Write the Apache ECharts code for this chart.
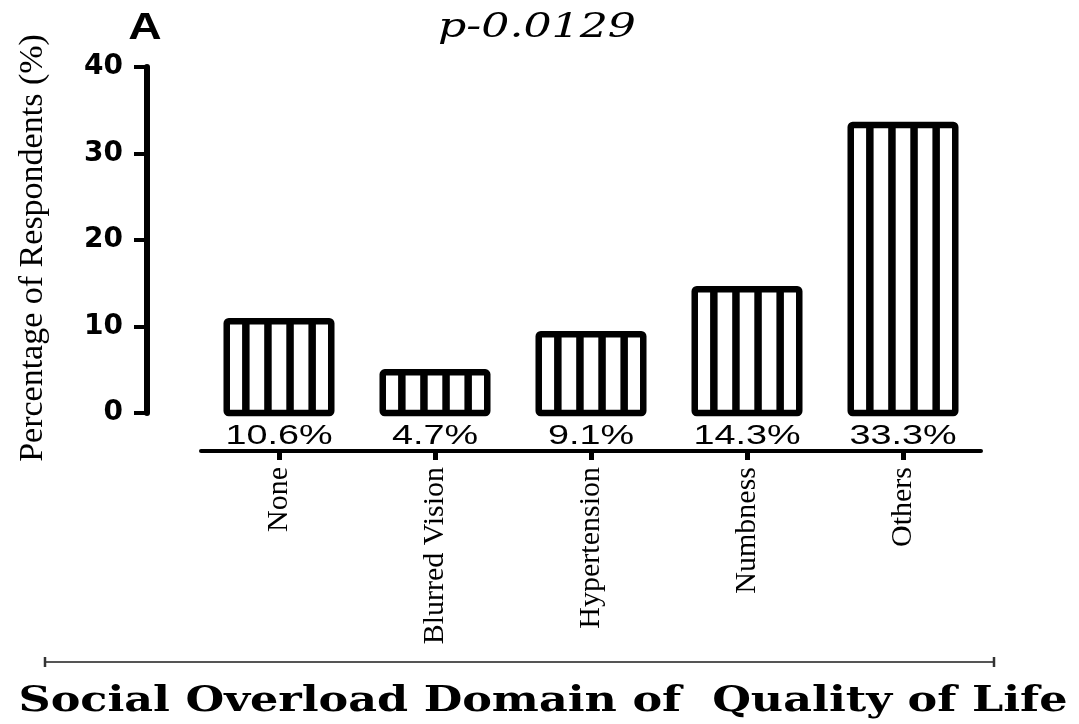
<!DOCTYPE html>
<html>
<head>
<meta charset="utf-8">
<script src="https://cdn.jsdelivr.net/npm/echarts@6/dist/echarts.min.js"></script>
<style>
html,body{margin:0;padding:0;background:#fff;}
#chart{width:1079px;height:724px;}
</style>
</head>
<body>
<div id="chart"></div>
<script>
var categories = ['None', 'Blurred Vision', 'Hypertension', 'Numbness', 'Others'];
var values = [10.6, 4.7, 9.1, 14.3, 33.3];
var valueLabels = ['10.6%', '4.7%', '9.1%', '14.3%', '33.3%'];
var yMin = 0, yMax = 40, yInterval = 10;
var panelLetter = 'A';
var pValueText = 'p-0.0129';
var yAxisTitle = 'Percentage of Respondents (%)';
var xAxisTitle = 'Social Overload Domain of  Quality of Life';

var chart = echarts.init(document.getElementById('chart'), null, {renderer: 'canvas'});

var seriesData = values.map(function (v, i) { return [i, v]; });

function renderBar(params, api) {
  var idx = api.value(0);
  var val = api.value(1);
  var top = api.coord([idx, val]);
  var base = api.coord([idx, 0]);
  var band = api.size([1, 0])[0];
  var w = band * 0.67;
  var x0 = top[0] - w / 2;
  var h = base[1] - top[1];
  var children = [];
  children.push({type: 'rect', shape: {x: x0, y: top[1], width: w, height: h}, style: {fill: '#fff', stroke: null}});
  for (var i = 1; i <= 4; i++) {
    var sx = x0 - 3 + (w + 6) * i / 5;
    children.push({type: 'line', shape: {x1: sx, y1: top[1], x2: sx, y2: base[1]}, style: {stroke: '#000', lineWidth: 7.5}});
  }
  children.push({type: 'rect', shape: {x: x0, y: top[1], width: w, height: h, r: 2}, style: {fill: null, stroke: '#000', lineWidth: 6.5}});
  children.push({
    type: 'text', x: top[0], y: base[1] + 23, scaleX: 1.35,
    style: {text: valueLabels[idx], align: 'center', verticalAlign: 'middle', textAlign: 'center', textVerticalAlign: 'middle',
      font: '28px "Liberation Sans", Arial, sans-serif', fill: '#000'}
  });
  return {type: 'group', children: children};
}

var option = {
  backgroundColor: '#fff',
  animation: false,
  grid: {left: 201, right: 98, top: 67, bottom: 311, containLabel: false},
  xAxis: {
    type: 'category',
    data: categories,
    offset: 38,
    axisLine: {show: true, onZero: false, lineStyle: {color: '#000', width: 4}},
    axisTick: {show: true, alignWithLabel: true, length: 9, lineStyle: {color: '#000', width: 5}},
    axisLabel: {rotate: 90, margin: 16, color: '#000', fontFamily: '"Liberation Serif", "Times New Roman", serif', fontSize: 30},
    splitLine: {show: false}
  },
  yAxis: {
    type: 'value',
    min: yMin, max: yMax, interval: yInterval,
    offset: 54,
    name: yAxisTitle,
    nameLocation: 'middle',
    nameGap: 97,
    nameTextStyle: {color: '#000', fontFamily: '"Liberation Serif", "Times New Roman", serif', fontSize: 34, padding: [0, 16, 0, 0]},
    axisLine: {show: true, onZero: false, lineStyle: {color: '#000', width: 6}},
    axisTick: {show: true, length: 13, lineStyle: {color: '#000', width: 4}},
    axisLabel: {margin: 24, color: '#000', fontFamily: '"DejaVu Sans", sans-serif', fontWeight: 'bold', fontSize: 28},
    splitLine: {show: false}
  },
  series: [{
    type: 'custom',
    renderItem: renderBar,
    data: seriesData,
    encode: {x: 0, y: 1},
    clip: false
  }],
  graphic: [
    {type: 'text', x: 145, y: 29, scaleX: 1.25,
      style: {text: panelLetter, textAlign: 'center', textVerticalAlign: 'middle', align: 'center', verticalAlign: 'middle',
        font: 'bold 37px "Liberation Sans", Arial, sans-serif', fill: '#000'}},
    {type: 'text', x: 537, y: 28, scaleX: 1.3,
      style: {text: pValueText, textAlign: 'center', textVerticalAlign: 'middle', align: 'center', verticalAlign: 'middle',
        font: 'italic 34px "DejaVu Serif", serif', fill: '#000'}},
    {type: 'line', shape: {x1: 45, y1: 662, x2: 994, y2: 662}, style: {stroke: '#555', lineWidth: 2}},
    {type: 'line', shape: {x1: 45, y1: 657, x2: 45, y2: 667}, style: {stroke: '#333', lineWidth: 2.5}},
    {type: 'line', shape: {x1: 994, y1: 657, x2: 994, y2: 667}, style: {stroke: '#333', lineWidth: 2.5}},
    {type: 'text', x: 543, y: 702, scaleX: 1.235,
      style: {text: xAxisTitle, textAlign: 'center', textVerticalAlign: 'middle', align: 'center', verticalAlign: 'middle',
        font: 'bold 36px "DejaVu Serif", serif', fill: '#000'}}
  ]
};
chart.setOption(option);
</script>
</body>
</html>
